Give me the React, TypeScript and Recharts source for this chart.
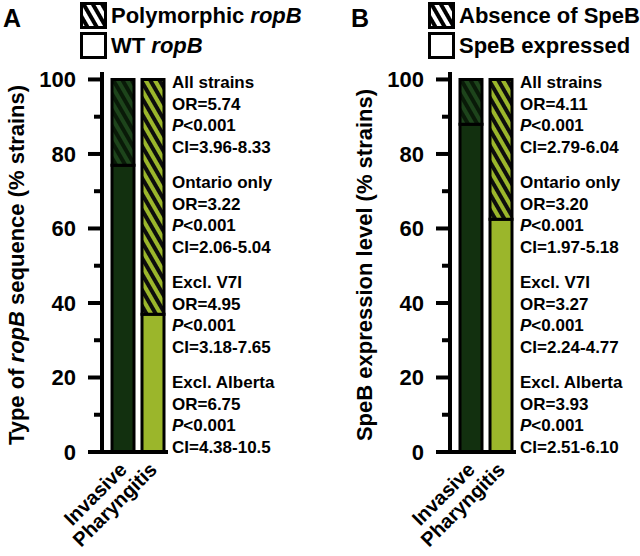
import React from "react";
import { Bar, BarChart, Cell, XAxis, YAxis } from "recharts";

const categories = ["Invasive", "Pharyngitis"];

// panel A: ropB sequence type (% strains)
const ropbWT = [77, 37];
const ropbPoly = [23, 63];

// panel B: SpeB expression (% strains)
const spebExpressed = [88, 62.5];
const spebAbsent = [12, 37.5];

const yTicks = [0, 10, 20, 30, 40, 50, 60, 70, 80, 90, 100];

const statsA = [
  { title: "All strains", or: "5.74", p: "0.001", ci: "3.96-8.33" },
  { title: "Ontario only", or: "3.22", p: "0.001", ci: "2.06-5.04" },
  { title: "Excl. V7I", or: "4.95", p: "0.001", ci: "3.18-7.65" },
  { title: "Excl. Alberta", or: "6.75", p: "0.001", ci: "4.38-10.5" },
];

const statsB = [
  { title: "All strains", or: "4.11", p: "0.001", ci: "2.79-6.04" },
  { title: "Ontario only", or: "3.20", p: "0.001", ci: "1.97-5.18" },
  { title: "Excl. V7I", or: "3.27", p: "0.001", ci: "2.24-4.77" },
  { title: "Excl. Alberta", or: "3.93", p: "0.001", ci: "2.51-6.10" },
];

const FONT = "'Liberation Sans', Arial, sans-serif";
const DARK = "#12300f";
const DARK_BASE = "#1d441b";
const DARK_STRIPE = "#091a08";
const LIGHT = "#9bb62b";
const LIGHT_STRIPE = "#0d0d0d";

function YTick(props: any) {
  const { x, y, payload } = props;
  const major = payload.value % 20 === 0;
  return (
    <g>
      <line x1={x - (major ? 14 : 8)} x2={x} y1={y} y2={y} stroke="#000" strokeWidth={4} />
      {major && (
        <text x={x - 26} y={y} dy="0.36em" textAnchor="end" fontSize={22} fontWeight="bold" fontFamily={FONT} fill="#000">
          {payload.value}
        </text>
      )}
    </g>
  );
}

function XTick(props: any) {
  const { x, y, payload } = props;
  const ax = x + 5;
  const ay = y + 19;
  return (
    <text x={ax} y={ay} transform={`rotate(-45 ${ax} ${ay})`} textAnchor="end" fontSize={20} fontWeight="bold" fontFamily={FONT} fill="#000">
      {payload.value}
    </text>
  );
}

function Hatch({ id, base, stripe }: { id: string; base: string; stripe: string }) {
  return (
    <pattern id={id} patternUnits="userSpaceOnUse" width={8} height={8} patternTransform="rotate(-30)">
      <rect width={8} height={8} fill={base} />
      <rect width={4} height={8} fill={stripe} />
    </pattern>
  );
}

function Stats({ rows }: { rows: typeof statsA }) {
  return (
    <div style={{ position: "absolute", left: 172, top: 72, fontSize: 17, fontWeight: "bold", lineHeight: "21.5px", color: "#000" }}>
      {rows.map((r) => (
        <div key={r.title} style={{ height: 86, marginBottom: 14, whiteSpace: "nowrap" }}>
          <div>{r.title}</div>
          <div>OR={r.or}</div>
          <div>
            <i>P</i>&lt;{r.p}
          </div>
          <div>CI={r.ci}</div>
        </div>
      ))}
    </div>
  );
}

function LegendRow({ top, hatched, children, pid }: { top: number; hatched: boolean; children: React.ReactNode; pid: string }) {
  return (
    <div style={{ position: "absolute", left: 80, top, display: "flex", alignItems: "center", fontSize: 22, fontWeight: "bold", whiteSpace: "nowrap" }}>
      <svg width={28} height={27} style={{ display: "block" }}>
        <defs>
          <Hatch id={pid} base="#fff" stripe="#000" />
        </defs>
        <rect x={1.5} y={1.5} width={24} height={24} fill={hatched ? `url(#${pid})` : "#fff"} stroke="#000" strokeWidth={3} />
      </svg>
      <span style={{ marginLeft: 3 }}>{children}</span>
    </div>
  );
}

interface PanelProps {
  id: string;
  left: number;
  letter: string;
  solid: number[];
  hatched: number[];
  legendHatched: React.ReactNode;
  legendSolid: React.ReactNode;
  yLabel: React.ReactNode;
  stats: typeof statsA;
}

function Panel({ id, left, letter, solid, hatched, legendHatched, legendSolid, yLabel, stats }: PanelProps) {
  const data = categories.map((name, i) => ({ name, solid: solid[i], hatched: hatched[i] }));
  const solidColors = [DARK, LIGHT];
  const hatchIds = [`${id}-hd`, `${id}-hl`];
  return (
    <div style={{ position: "absolute", left, top: 0, width: 292, height: 556 }}>
      <div style={{ position: "absolute", left: 3, top: 4, fontSize: 25, fontWeight: "bold" }}>{letter}</div>
      <LegendRow top={2} hatched pid={`${id}-lg`}>{legendHatched}</LegendRow>
      <LegendRow top={32} hatched={false} pid={`${id}-lg2`}>{legendSolid}</LegendRow>
      <div style={{ position: "absolute", left: 0, top: 0 }}>
        <BarChart width={292} height={556} data={data} margin={{ top: 72, right: 124, bottom: 0, left: 0 }}>
          <defs>
            <Hatch id={hatchIds[0]} base={DARK_BASE} stripe={DARK_STRIPE} />
            <Hatch id={hatchIds[1]} base={LIGHT} stripe={LIGHT_STRIPE} />
          </defs>
          <XAxis
            dataKey="name"
            height={104}
            axisLine={{ stroke: "#000", strokeWidth: 4 }}
            tickLine={false}
            tickSize={0}
            tickMargin={0}
            tick={<XTick />}
            padding={{ left: 6, right: 0 }}
            interval={0}
          />
          <YAxis
            width={102}
            domain={[0, 102]}
            ticks={yTicks}
            allowDataOverflow
            axisLine={{ stroke: "#000", strokeWidth: 4 }}
            tickLine={false}
            tickSize={0}
            tickMargin={0}
            tick={<YTick />}
            interval={0}
            label={(p: any) => {
              const vb = p.viewBox;
              const cx = vb.x + 16;
              const cy = vb.y + vb.height / 2 + 3;
              return (
                <text x={cx} y={cy} transform={`rotate(-90 ${cx} ${cy})`} textAnchor="middle" dy="0.36em" fontSize={22} fontWeight="bold" fontFamily={FONT} fill="#000">
                  {yLabel}
                </text>
              );
            }}
          />
          <Bar dataKey="solid" stackId="s" barSize={22} stroke="#000" strokeWidth={3} isAnimationActive={false}>
            {data.map((d, i) => (
              <Cell key={d.name} fill={solidColors[i]} />
            ))}
          </Bar>
          <Bar dataKey="hatched" stackId="s" barSize={22} stroke="#000" strokeWidth={3} isAnimationActive={false}>
            {data.map((d, i) => (
              <Cell key={d.name} fill={`url(#${hatchIds[i]})`} />
            ))}
          </Bar>
        </BarChart>
      </div>
      <Stats rows={stats} />
    </div>
  );
}

export default function App() {
  return (
    <div style={{ position: "absolute", left: 0, top: 0, width: 640, height: 556, background: "#fff", fontFamily: FONT, color: "#000" }}>
      <Panel
        id="a"
        left={0}
        letter="A"
        solid={ropbWT}
        hatched={ropbPoly}
        legendHatched={<>Polymorphic <i>ropB</i></>}
        legendSolid={<>WT <i>ropB</i></>}
        yLabel={<>Type of <tspan fontStyle="italic">ropB</tspan> sequence (% strains)</>}
        stats={statsA}
      />
      <Panel
        id="b"
        left={348}
        letter="B"
        solid={spebExpressed}
        hatched={spebAbsent}
        legendHatched="Absence of SpeB"
        legendSolid="SpeB expressed"
        yLabel="SpeB expression level (% strains)"
        stats={statsB}
      />
    </div>
  );
}
